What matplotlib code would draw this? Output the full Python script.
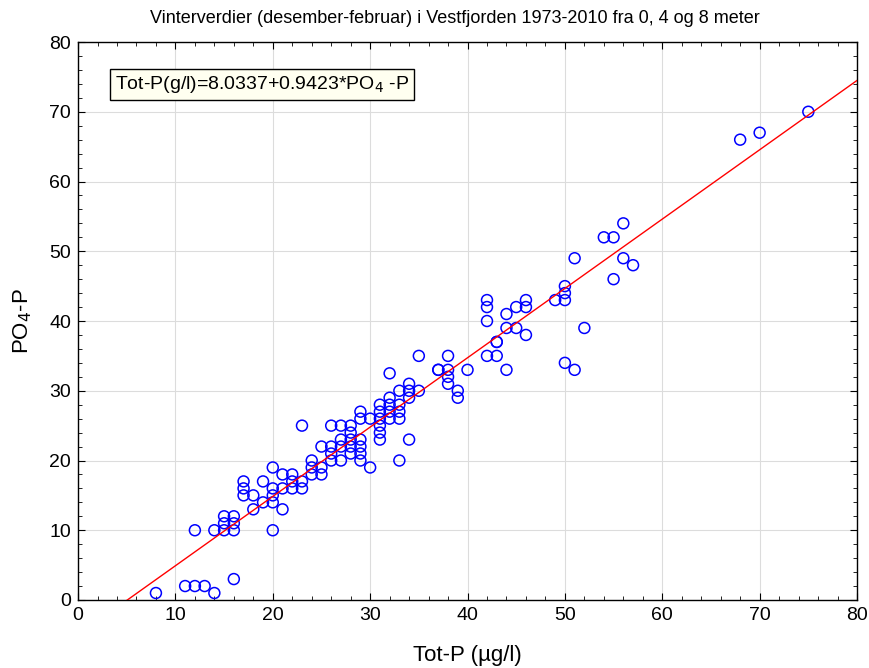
import numpy as np
import matplotlib
matplotlib.use("Agg")
import matplotlib.pyplot as plt
from matplotlib.ticker import MultipleLocator

plt.rcParams['font.family'] = ['Liberation Sans', 'DejaVu Sans']

# Tot-P (x) and PO4-P (y)
tot_p = [8, 11, 12, 13, 14, 16,
         12, 14, 15, 15, 15, 16, 16, 16, 17, 17, 17, 18, 18,
         19, 19, 20, 20, 20, 20, 20, 21, 21, 22, 22, 22, 23, 23, 21,
         24, 24, 24, 25, 25, 25, 26, 26, 26, 27, 27, 27, 28, 28,
         23, 26, 27, 28, 28, 28, 29, 29, 29, 29, 29, 29, 30, 30,
         31, 31, 31, 31, 31, 31, 32, 32, 32, 32, 33, 33, 33, 33, 33,
         34, 34, 34, 34, 35, 35, 32, 37, 37, 38, 38, 38, 38, 39, 39, 40,
         42, 42, 42, 42, 43, 43, 43, 44, 44, 44, 45, 45, 46, 46, 46,
         49, 50, 50, 50, 51, 52, 54, 55, 55, 56, 56, 57, 50, 51,
         68, 70, 75]
po4_p = [1, 2, 2, 2, 1, 3,
         10, 10, 10, 11, 12, 10, 11, 12, 15, 16, 17, 15, 13,
         17, 14, 19, 16, 15, 14, 10, 18, 13, 18, 17, 16, 17, 16, 16,
         20, 19, 18, 22, 19, 18, 22, 21, 20, 23, 22, 20, 22, 21,
         25, 25, 25, 25, 24, 23, 27, 26, 23, 22, 21, 20, 26, 19,
         28, 27, 26, 25, 24, 23, 29, 28, 27, 26, 30, 28, 27, 26, 20,
         31, 30, 29, 23, 35, 30, 32.5, 33, 33, 35, 33, 32, 31, 30, 29, 33,
         43, 42, 40, 35, 37, 37, 35, 41, 39, 33, 42, 39, 43, 42, 38,
         43, 45, 44, 43, 49, 39, 52, 52, 46, 54, 49, 48, 34, 33,
         66, 67, 70]

# fitted line as drawn
fit_a, fit_b = -5.03, 0.994

fig = plt.figure(figsize=(8.69, 6.68), dpi=100)
ax = fig.add_axes([0.0898, 0.1018, 0.8964, 0.8353])

ax.grid(True, which='major', color='#dcdcdc', lw=0.8, zorder=0)
ax.scatter(tot_p, po4_p, s=62, facecolors='none', edgecolors='#0000ff',
           linewidths=1.1, zorder=3)
xs = np.array([0, 80])
ax.plot(xs, fit_a + fit_b * xs, color='#ff0000', lw=1.0, zorder=4)

ax.set_xlim(0, 80)
ax.set_ylim(0, 80)
ax.xaxis.set_major_locator(MultipleLocator(10))
ax.yaxis.set_major_locator(MultipleLocator(10))
ax.xaxis.set_minor_locator(MultipleLocator(2))
ax.yaxis.set_minor_locator(MultipleLocator(2))
ax.tick_params(which='both', direction='in', top=True, right=True, labelsize=14)
ax.tick_params(which='major', length=5, pad=5)
ax.tick_params(which='minor', length=3)
for sp in ax.spines.values():
    sp.set_linewidth(1.0)

ax.set_xlabel('Tot-P (µg/l)', fontsize=16, va='center')
ax.set_ylabel('PO$_4$-P', fontsize=16, va='center')
ax.xaxis.set_label_coords(0.5, -0.0986)
ax.yaxis.set_label_coords(-0.071, 0.5)
fig.text(0.523, 0.973,
         'Vinterverdier (desember-februar) i Vestfjorden 1973-2010 fra 0, 4 og 8 meter',
         fontsize=13, ha='center', va='center')

ax.text(3.8, 73.9, 'Tot-P(g/l)=8.0337+0.9423*PO$_4$ -P', fontsize=14, va='center',
        bbox=dict(boxstyle='square,pad=0.25', facecolor='#fffff0', edgecolor='black', lw=1.0),
        zorder=5)

fig.savefig('out.png', dpi=100)
